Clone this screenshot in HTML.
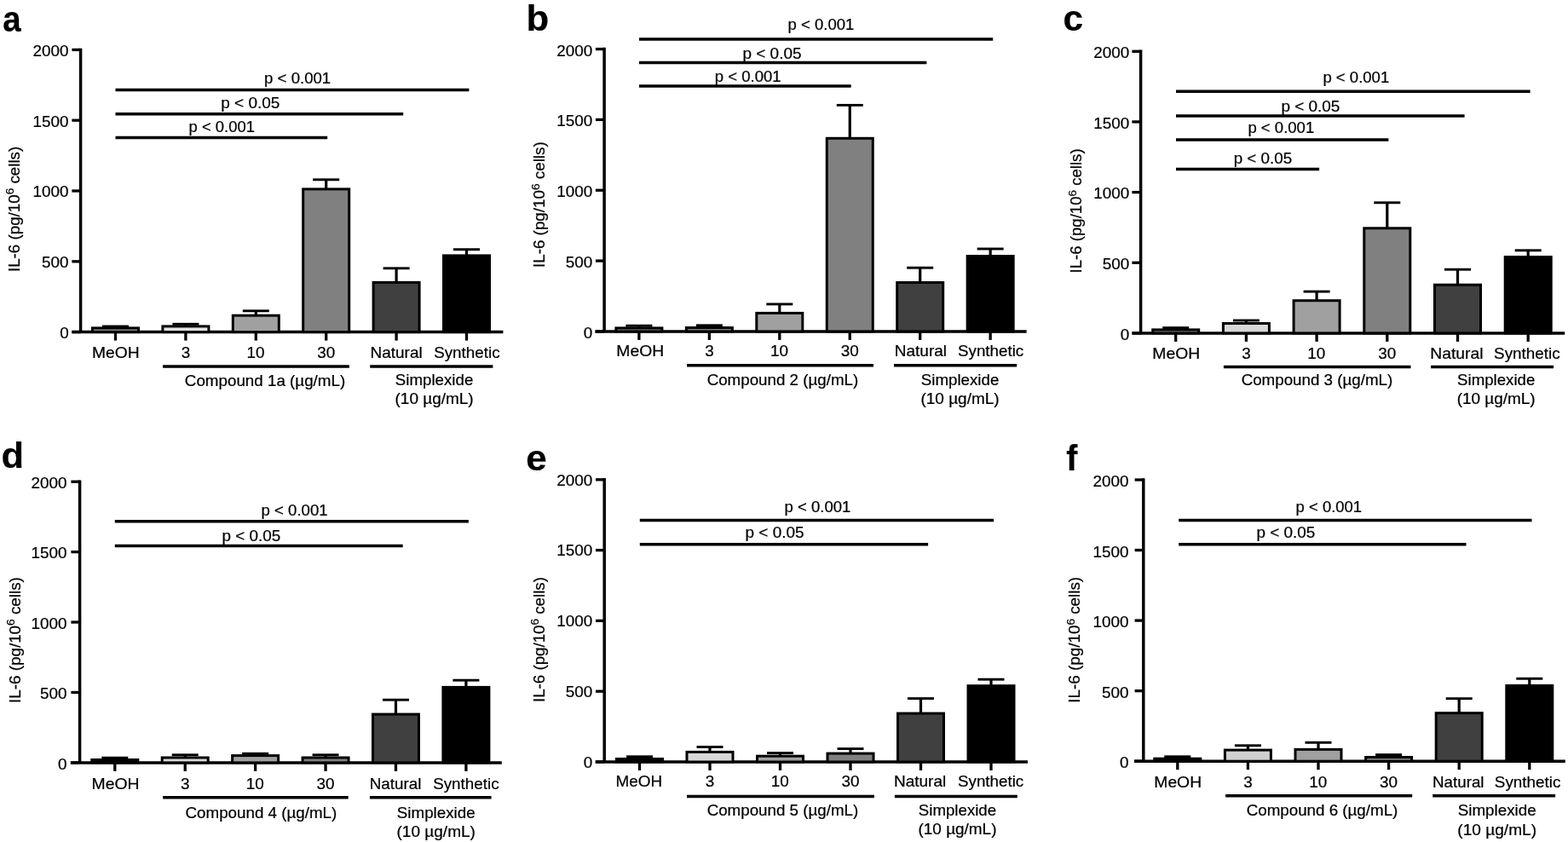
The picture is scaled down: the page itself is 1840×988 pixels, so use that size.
<!DOCTYPE html>
<html><head><meta charset="utf-8"><title>IL-6 production figure</title>
<style>
html,body{margin:0;padding:0;background:#fff;}
body{width:1840px;height:988px;overflow:hidden;}
svg{display:block;}
text{font-family:'Liberation Sans', Arial, Helvetica, sans-serif;font-size:18px;fill:#000;font-kerning:none;stroke:#000;stroke-width:0.22px;}
text.lt{font-weight:bold;font-size:43px;}
tspan.sup{font-size:13px;}
.ax{stroke:#000;stroke-width:3.5px;fill:none;}
.tk{stroke:#000;stroke-width:3.3px;fill:none;}
.eb{stroke:#000;stroke-width:3.2px;fill:none;}
.cp{stroke:#000;stroke-width:2.9px;fill:none;}
.gl{stroke:#000;stroke-width:3.5px;fill:none;}
.sg{stroke:#000;stroke-width:3.5px;fill:none;}
.bar{stroke:#000;stroke-width:3px;}
</style></head>
<body>
<svg width="1840" height="988" viewBox="0 0 1840 988">
<rect x="0" y="0" width="1840" height="988" fill="#fff"/>
<text class="lt" transform="translate(3.17 36.9) scale(0.8941 1)">a</text>
<line x1="94.6" y1="56.65" x2="94.6" y2="389.6" class="ax"/>
<line x1="84.4" y1="389.6" x2="94.6" y2="389.6" class="tk"/>
<text transform="translate(70.13 397) scale(1.0500 1)">0</text>
<line x1="84.4" y1="306.8" x2="94.6" y2="306.8" class="tk"/>
<text transform="translate(49.1 314.2) scale(1.0500 1)">500</text>
<line x1="84.4" y1="224" x2="94.6" y2="224" class="tk"/>
<text transform="translate(38.59 231.4) scale(1.0500 1)">1000</text>
<line x1="84.4" y1="141.2" x2="94.6" y2="141.2" class="tk"/>
<text transform="translate(38.59 148.6) scale(1.0500 1)">1500</text>
<line x1="84.4" y1="58.4" x2="94.6" y2="58.4" class="tk"/>
<text transform="translate(38.59 65.8) scale(1.0500 1)">2000</text>
<line x1="84.4" y1="389.6" x2="590.4" y2="389.6" class="ax"/>
<text transform="translate(23 319.03) rotate(-90) scale(1.0425 1)">IL-6 (pg/10<tspan class="sup" dy="-6.6">6</tspan><tspan dy="6.6"> cells)</tspan></text>
<line x1="135.5" y1="389.6" x2="135.5" y2="399.6" class="tk"/>
<line x1="135.5" y1="384.9" x2="135.5" y2="383" class="eb"/>
<line x1="120" y1="383" x2="151" y2="383" class="cp"/>
<rect x="108.5" y="384.9" width="54" height="4.7" fill="#808080" class="bar"/>
<text transform="translate(108.02 419.8) scale(1.0701 1)">MeOH</text>
<line x1="217.9" y1="389.6" x2="217.9" y2="399.6" class="tk"/>
<line x1="217.9" y1="382.9" x2="217.9" y2="380.3" class="eb"/>
<line x1="202.4" y1="380.3" x2="233.4" y2="380.3" class="cp"/>
<rect x="190.9" y="382.9" width="54" height="6.7" fill="#e2e2e2" class="bar"/>
<text transform="translate(212.7 419.8) scale(1.0500 1)">3</text>
<line x1="300.3" y1="389.6" x2="300.3" y2="399.6" class="tk"/>
<line x1="300.3" y1="370.2" x2="300.3" y2="364.8" class="eb"/>
<line x1="284.8" y1="364.8" x2="315.8" y2="364.8" class="cp"/>
<rect x="273.3" y="370.2" width="54" height="19.4" fill="#a0a0a0" class="bar"/>
<text transform="translate(289.44 419.8) scale(1.0500 1)">10</text>
<line x1="382.7" y1="389.6" x2="382.7" y2="399.6" class="tk"/>
<line x1="382.7" y1="221.9" x2="382.7" y2="210.8" class="eb"/>
<line x1="367.2" y1="210.8" x2="398.2" y2="210.8" class="cp"/>
<rect x="355.7" y="221.9" width="54" height="167.7" fill="#808080" class="bar"/>
<text transform="translate(372.2 419.8) scale(1.0500 1)">30</text>
<line x1="465.1" y1="389.6" x2="465.1" y2="399.6" class="tk"/>
<line x1="465.1" y1="331.4" x2="465.1" y2="314.8" class="eb"/>
<line x1="449.6" y1="314.8" x2="480.6" y2="314.8" class="cp"/>
<rect x="438.1" y="331.4" width="54" height="58.2" fill="#404040" class="bar"/>
<text transform="translate(434.44 419.8) scale(1.0552 1)">Natural</text>
<line x1="547.5" y1="389.6" x2="547.5" y2="399.6" class="tk"/>
<line x1="547.5" y1="299.9" x2="547.5" y2="292.7" class="eb"/>
<line x1="532" y1="292.7" x2="563" y2="292.7" class="cp"/>
<rect x="520.5" y="299.9" width="54" height="89.7" fill="#000000" class="bar"/>
<text transform="translate(509.14 419.8) scale(1.0461 1)">Synthetic</text>
<line x1="191" y1="430" x2="409.9" y2="430" class="gl"/>
<line x1="434.2" y1="430" x2="578.4" y2="430" class="gl"/>
<text transform="translate(216.85 452.6) scale(1.0441 1)">Compound 1a (µg/mL)</text>
<text transform="translate(463.85 451.6) scale(1.0391 1)">Simplexide</text>
<text transform="translate(463.52 474.2) scale(1.0544 1)">(10 µg/mL)</text>
<line x1="135.5" y1="105.4" x2="550.4" y2="105.4" class="sg"/>
<text transform="translate(310.1 98.2) scale(1.0336 1)">p &lt; 0.001</text>
<line x1="135.5" y1="133.8" x2="473.2" y2="133.8" class="sg"/>
<text transform="translate(259.17 127.1) scale(1.0559 1)">p &lt; 0.05</text>
<line x1="135.5" y1="161.6" x2="384.2" y2="161.6" class="sg"/>
<text transform="translate(221.61 155.1) scale(1.0241 1)">p &lt; 0.001</text>
<text class="lt" transform="translate(617.42 35.5) scale(1.0153 1)">b</text>
<line x1="709.1" y1="55.85" x2="709.1" y2="388.9" class="ax"/>
<line x1="698.9" y1="388.9" x2="709.1" y2="388.9" class="tk"/>
<text transform="translate(684.73 396.9) scale(1.0500 1)">0</text>
<line x1="698.9" y1="306.07" x2="709.1" y2="306.07" class="tk"/>
<text transform="translate(663.7 314.07) scale(1.0500 1)">500</text>
<line x1="698.9" y1="223.25" x2="709.1" y2="223.25" class="tk"/>
<text transform="translate(653.19 231.25) scale(1.0500 1)">1000</text>
<line x1="698.9" y1="140.43" x2="709.1" y2="140.43" class="tk"/>
<text transform="translate(653.19 148.43) scale(1.0500 1)">1500</text>
<line x1="698.9" y1="57.6" x2="709.1" y2="57.6" class="tk"/>
<text transform="translate(653.19 65.6) scale(1.0500 1)">2000</text>
<line x1="698.4" y1="388.9" x2="1204.6" y2="388.9" class="ax"/>
<text transform="translate(639.3 314.04) rotate(-90) scale(1.0468 1)">IL-6 (pg/10<tspan class="sup" dy="-6.6">6</tspan><tspan dy="6.6"> cells)</tspan></text>
<line x1="749.9" y1="388.9" x2="749.9" y2="398.9" class="tk"/>
<line x1="749.9" y1="384.9" x2="749.9" y2="382.2" class="eb"/>
<line x1="734.4" y1="382.2" x2="765.4" y2="382.2" class="cp"/>
<rect x="722.9" y="384.9" width="54" height="4" fill="#808080" class="bar"/>
<text transform="translate(723.31 418.3) scale(1.0762 1)">MeOH</text>
<line x1="832.35" y1="388.9" x2="832.35" y2="398.9" class="tk"/>
<line x1="832.35" y1="384.5" x2="832.35" y2="381.8" class="eb"/>
<line x1="816.85" y1="381.8" x2="847.85" y2="381.8" class="cp"/>
<rect x="805.35" y="384.5" width="54" height="4.4" fill="#808080" class="bar"/>
<text transform="translate(827.15 418.3) scale(1.0500 1)">3</text>
<line x1="914.8" y1="388.9" x2="914.8" y2="398.9" class="tk"/>
<line x1="914.8" y1="367.4" x2="914.8" y2="356.9" class="eb"/>
<line x1="899.3" y1="356.9" x2="930.3" y2="356.9" class="cp"/>
<rect x="887.8" y="367.4" width="54" height="21.5" fill="#a0a0a0" class="bar"/>
<text transform="translate(903.94 418.3) scale(1.0500 1)">10</text>
<line x1="997.25" y1="388.9" x2="997.25" y2="398.9" class="tk"/>
<line x1="997.25" y1="162.3" x2="997.25" y2="123.4" class="eb"/>
<line x1="981.75" y1="123.4" x2="1012.75" y2="123.4" class="cp"/>
<rect x="970.25" y="162.3" width="54" height="226.6" fill="#808080" class="bar"/>
<text transform="translate(986.75 418.3) scale(1.0500 1)">30</text>
<line x1="1079.7" y1="388.9" x2="1079.7" y2="398.9" class="tk"/>
<line x1="1079.7" y1="331.5" x2="1079.7" y2="314.2" class="eb"/>
<line x1="1064.2" y1="314.2" x2="1095.2" y2="314.2" class="cp"/>
<rect x="1052.7" y="331.5" width="54" height="57.4" fill="#404040" class="bar"/>
<text transform="translate(1049.74 418.3) scale(1.0570 1)">Natural</text>
<line x1="1162.15" y1="388.9" x2="1162.15" y2="398.9" class="tk"/>
<line x1="1162.15" y1="300.5" x2="1162.15" y2="292" class="eb"/>
<line x1="1146.65" y1="292" x2="1177.65" y2="292" class="cp"/>
<rect x="1135.15" y="300.5" width="54" height="88.4" fill="#000000" class="bar"/>
<text transform="translate(1123.95 418.3) scale(1.0447 1)">Synthetic</text>
<line x1="806" y1="428.7" x2="1025" y2="428.7" class="gl"/>
<line x1="1049" y1="428.7" x2="1193.2" y2="428.7" class="gl"/>
<text transform="translate(829.65 451.6) scale(1.0421 1)">Compound 2 (µg/mL)</text>
<text transform="translate(1080.75 451.6) scale(1.0402 1)">Simplexide</text>
<text transform="translate(1080.42 474) scale(1.0556 1)">(10 µg/mL)</text>
<line x1="750" y1="45.9" x2="1165.2" y2="45.9" class="sg"/>
<text transform="translate(924.61 35.1) scale(1.0282 1)">p &lt; 0.001</text>
<line x1="750" y1="73.4" x2="1087.4" y2="73.4" class="sg"/>
<text transform="translate(871.48 68.6) scale(1.0528 1)">p &lt; 0.05</text>
<line x1="750" y1="100.9" x2="998.7" y2="100.9" class="sg"/>
<text transform="translate(838.8 96.1) scale(1.0309 1)">p &lt; 0.001</text>
<text class="lt" transform="translate(1247.54 35.5) scale(0.9869 1)">c</text>
<line x1="1338.6" y1="58.55" x2="1338.6" y2="390.9" class="ax"/>
<line x1="1328.4" y1="390.9" x2="1338.6" y2="390.9" class="tk"/>
<text transform="translate(1314.73 398.5) scale(1.0500 1)">0</text>
<line x1="1328.4" y1="308.25" x2="1338.6" y2="308.25" class="tk"/>
<text transform="translate(1293.7 315.85) scale(1.0500 1)">500</text>
<line x1="1328.4" y1="225.6" x2="1338.6" y2="225.6" class="tk"/>
<text transform="translate(1283.19 233.2) scale(1.0500 1)">1000</text>
<line x1="1328.4" y1="142.95" x2="1338.6" y2="142.95" class="tk"/>
<text transform="translate(1283.19 150.55) scale(1.0500 1)">1500</text>
<line x1="1328.4" y1="60.3" x2="1338.6" y2="60.3" class="tk"/>
<text transform="translate(1283.19 67.9) scale(1.0500 1)">2000</text>
<line x1="1328.6" y1="390.9" x2="1836.2" y2="390.9" class="ax"/>
<text transform="translate(1269.3 320.42) rotate(-90) scale(1.0338 1)">IL-6 (pg/10<tspan class="sup" dy="-6.6">6</tspan><tspan dy="6.6"> cells)</tspan></text>
<line x1="1379.7" y1="390.9" x2="1379.7" y2="400.9" class="tk"/>
<line x1="1379.7" y1="386.9" x2="1379.7" y2="384.6" class="eb"/>
<line x1="1364.2" y1="384.6" x2="1395.2" y2="384.6" class="cp"/>
<rect x="1352.7" y="386.9" width="54" height="4" fill="#808080" class="bar"/>
<text transform="translate(1352.31 420.5) scale(1.0783 1)">MeOH</text>
<line x1="1462.4" y1="390.9" x2="1462.4" y2="400.9" class="tk"/>
<line x1="1462.4" y1="379.5" x2="1462.4" y2="376" class="eb"/>
<line x1="1446.9" y1="376" x2="1477.9" y2="376" class="cp"/>
<rect x="1435.4" y="379.5" width="54" height="11.4" fill="#d8d8d8" class="bar"/>
<text transform="translate(1457.2 420.5) scale(1.0500 1)">3</text>
<line x1="1545.1" y1="390.9" x2="1545.1" y2="400.9" class="tk"/>
<line x1="1545.1" y1="352.7" x2="1545.1" y2="342.1" class="eb"/>
<line x1="1529.6" y1="342.1" x2="1560.6" y2="342.1" class="cp"/>
<rect x="1518.1" y="352.7" width="54" height="38.2" fill="#a0a0a0" class="bar"/>
<text transform="translate(1534.24 420.5) scale(1.0500 1)">10</text>
<line x1="1627.8" y1="390.9" x2="1627.8" y2="400.9" class="tk"/>
<line x1="1627.8" y1="267.8" x2="1627.8" y2="237.8" class="eb"/>
<line x1="1612.3" y1="237.8" x2="1643.3" y2="237.8" class="cp"/>
<rect x="1600.8" y="267.8" width="54" height="123.1" fill="#808080" class="bar"/>
<text transform="translate(1617.3 420.5) scale(1.0500 1)">30</text>
<line x1="1710.5" y1="390.9" x2="1710.5" y2="400.9" class="tk"/>
<line x1="1710.5" y1="334.2" x2="1710.5" y2="316.2" class="eb"/>
<line x1="1695" y1="316.2" x2="1726" y2="316.2" class="cp"/>
<rect x="1683.5" y="334.2" width="54" height="56.7" fill="#404040" class="bar"/>
<text transform="translate(1678.22 420.5) scale(1.0733 1)">Natural</text>
<line x1="1793.2" y1="390.9" x2="1793.2" y2="400.9" class="tk"/>
<line x1="1793.2" y1="301.5" x2="1793.2" y2="293.8" class="eb"/>
<line x1="1777.7" y1="293.8" x2="1808.7" y2="293.8" class="cp"/>
<rect x="1766.2" y="301.5" width="54" height="89.4" fill="#000000" class="bar"/>
<text transform="translate(1753.04 420.5) scale(1.0488 1)">Synthetic</text>
<line x1="1435.9" y1="430.4" x2="1655.5" y2="430.4" class="gl"/>
<line x1="1679" y1="430.4" x2="1823.1" y2="430.4" class="gl"/>
<text transform="translate(1456.65 451.6) scale(1.0427 1)">Compound 3 (µg/mL)</text>
<text transform="translate(1710.05 451.6) scale(1.0368 1)">Simplexide</text>
<text transform="translate(1709.73 474) scale(1.0521 1)">(10 µg/mL)</text>
<line x1="1380" y1="107.3" x2="1795.6" y2="107.3" class="sg"/>
<text transform="translate(1552.4 97) scale(1.0309 1)">p &lt; 0.001</text>
<line x1="1380" y1="136" x2="1718.6" y2="136" class="sg"/>
<text transform="translate(1503.38 130.7) scale(1.0528 1)">p &lt; 0.05</text>
<line x1="1380" y1="164" x2="1629.4" y2="164" class="sg"/>
<text transform="translate(1464.4 155.8) scale(1.0309 1)">p &lt; 0.001</text>
<line x1="1380" y1="198.6" x2="1548.1" y2="198.6" class="sg"/>
<text transform="translate(1447.69 191.7) scale(1.0449 1)">p &lt; 0.05</text>
<text class="lt" transform="translate(1.52 548.6) scale(1.0107 1)">d</text>
<line x1="93.6" y1="563.45" x2="93.6" y2="894.9" class="ax"/>
<line x1="83.4" y1="894.9" x2="93.6" y2="894.9" class="tk"/>
<text transform="translate(67.93 902.5) scale(1.0500 1)">0</text>
<line x1="83.4" y1="812.48" x2="93.6" y2="812.48" class="tk"/>
<text transform="translate(46.9 820.08) scale(1.0500 1)">500</text>
<line x1="83.4" y1="730.05" x2="93.6" y2="730.05" class="tk"/>
<text transform="translate(36.39 737.65) scale(1.0500 1)">1000</text>
<line x1="83.4" y1="647.62" x2="93.6" y2="647.62" class="tk"/>
<text transform="translate(36.39 655.23) scale(1.0500 1)">1500</text>
<line x1="83.4" y1="565.2" x2="93.6" y2="565.2" class="tk"/>
<text transform="translate(36.39 572.8) scale(1.0500 1)">2000</text>
<line x1="82.8" y1="894.9" x2="588.8" y2="894.9" class="ax"/>
<text transform="translate(23.7 824.94) rotate(-90) scale(1.0468 1)">IL-6 (pg/10<tspan class="sup" dy="-6.6">6</tspan><tspan dy="6.6"> cells)</tspan></text>
<line x1="134.8" y1="894.9" x2="134.8" y2="904.9" class="tk"/>
<line x1="134.8" y1="891.5" x2="134.8" y2="889.2" class="eb"/>
<line x1="119.3" y1="889.2" x2="150.3" y2="889.2" class="cp"/>
<rect x="107.8" y="891.5" width="54" height="3.4" fill="#000000" class="bar"/>
<text transform="translate(107.51 925.9) scale(1.0783 1)">MeOH</text>
<line x1="217.22" y1="894.9" x2="217.22" y2="904.9" class="tk"/>
<line x1="217.22" y1="889" x2="217.22" y2="885.8" class="eb"/>
<line x1="201.72" y1="885.8" x2="232.72" y2="885.8" class="cp"/>
<rect x="190.22" y="889" width="54" height="5.9" fill="#d8d8d8" class="bar"/>
<text transform="translate(212.02 925.9) scale(1.0500 1)">3</text>
<line x1="299.64" y1="894.9" x2="299.64" y2="904.9" class="tk"/>
<line x1="299.64" y1="886.6" x2="299.64" y2="884.3" class="eb"/>
<line x1="284.14" y1="884.3" x2="315.14" y2="884.3" class="cp"/>
<rect x="272.64" y="886.6" width="54" height="8.3" fill="#a0a0a0" class="bar"/>
<text transform="translate(288.78 925.9) scale(1.0500 1)">10</text>
<line x1="382.06" y1="894.9" x2="382.06" y2="904.9" class="tk"/>
<line x1="382.06" y1="889" x2="382.06" y2="885.8" class="eb"/>
<line x1="366.56" y1="885.8" x2="397.56" y2="885.8" class="cp"/>
<rect x="355.06" y="889" width="54" height="5.9" fill="#808080" class="bar"/>
<text transform="translate(371.56 925.9) scale(1.0500 1)">30</text>
<line x1="464.48" y1="894.9" x2="464.48" y2="904.9" class="tk"/>
<line x1="464.48" y1="838.1" x2="464.48" y2="821.2" class="eb"/>
<line x1="448.98" y1="821.2" x2="479.98" y2="821.2" class="cp"/>
<rect x="437.48" y="838.1" width="54" height="56.8" fill="#404040" class="bar"/>
<text transform="translate(433.76 925.9) scale(1.0462 1)">Natural</text>
<line x1="546.9" y1="894.9" x2="546.9" y2="904.9" class="tk"/>
<line x1="546.9" y1="806.4" x2="546.9" y2="798.2" class="eb"/>
<line x1="531.4" y1="798.2" x2="562.4" y2="798.2" class="cp"/>
<rect x="519.9" y="806.4" width="54" height="88.5" fill="#000000" class="bar"/>
<text transform="translate(508.14 925.9) scale(1.0461 1)">Synthetic</text>
<line x1="191.1" y1="935.8" x2="408.7" y2="935.8" class="gl"/>
<line x1="433.9" y1="935.8" x2="576.6" y2="935.8" class="gl"/>
<text transform="translate(217.55 959.8) scale(1.0438 1)">Compound 4 (µg/mL)</text>
<text transform="translate(465.85 959.8) scale(1.0425 1)">Simplexide</text>
<text transform="translate(465.52 981.9) scale(1.0579 1)">(10 µg/mL)</text>
<line x1="134.8" y1="611.8" x2="549.9" y2="611.8" class="sg"/>
<text transform="translate(306.5 604.6) scale(1.0350 1)">p &lt; 0.001</text>
<line x1="134.8" y1="640.5" x2="472.7" y2="640.5" class="sg"/>
<text transform="translate(260.38 635) scale(1.0512 1)">p &lt; 0.05</text>
<text class="lt" transform="translate(617.19 551.6) scale(1.0209 1)">e</text>
<line x1="709.2" y1="561.05" x2="709.2" y2="894" class="ax"/>
<line x1="699" y1="894" x2="709.2" y2="894" class="tk"/>
<text transform="translate(684.73 900.8) scale(1.0500 1)">0</text>
<line x1="699" y1="811.2" x2="709.2" y2="811.2" class="tk"/>
<text transform="translate(663.7 818) scale(1.0500 1)">500</text>
<line x1="699" y1="728.4" x2="709.2" y2="728.4" class="tk"/>
<text transform="translate(653.19 735.2) scale(1.0500 1)">1000</text>
<line x1="699" y1="645.6" x2="709.2" y2="645.6" class="tk"/>
<text transform="translate(653.19 652.4) scale(1.0500 1)">1500</text>
<line x1="699" y1="562.8" x2="709.2" y2="562.8" class="tk"/>
<text transform="translate(653.19 569.6) scale(1.0500 1)">2000</text>
<line x1="698.6" y1="894" x2="1206" y2="894" class="ax"/>
<text transform="translate(638.7 824.03) rotate(-90) scale(1.0403 1)">IL-6 (pg/10<tspan class="sup" dy="-6.6">6</tspan><tspan dy="6.6"> cells)</tspan></text>
<line x1="750.5" y1="894" x2="750.5" y2="904" class="tk"/>
<line x1="750.5" y1="890.5" x2="750.5" y2="887.8" class="eb"/>
<line x1="735" y1="887.8" x2="766" y2="887.8" class="cp"/>
<rect x="723.5" y="890.5" width="54" height="3.5" fill="#000000" class="bar"/>
<text transform="translate(722.44 923.1) scale(1.0538 1)">MeOH</text>
<line x1="833" y1="894" x2="833" y2="904" class="tk"/>
<line x1="833" y1="882.4" x2="833" y2="876.5" class="eb"/>
<line x1="817.5" y1="876.5" x2="848.5" y2="876.5" class="cp"/>
<rect x="806" y="882.4" width="54" height="11.6" fill="#d8d8d8" class="bar"/>
<text transform="translate(827.8 923.1) scale(1.0500 1)">3</text>
<line x1="915.5" y1="894" x2="915.5" y2="904" class="tk"/>
<line x1="915.5" y1="887.2" x2="915.5" y2="883.6" class="eb"/>
<line x1="900" y1="883.6" x2="931" y2="883.6" class="cp"/>
<rect x="888.5" y="887.2" width="54" height="6.8" fill="#a0a0a0" class="bar"/>
<text transform="translate(904.64 923.1) scale(1.0500 1)">10</text>
<line x1="998" y1="894" x2="998" y2="904" class="tk"/>
<line x1="998" y1="884.1" x2="998" y2="878.6" class="eb"/>
<line x1="982.5" y1="878.6" x2="1013.5" y2="878.6" class="cp"/>
<rect x="971" y="884.1" width="54" height="9.9" fill="#808080" class="bar"/>
<text transform="translate(987.5 923.1) scale(1.0500 1)">30</text>
<line x1="1080.5" y1="894" x2="1080.5" y2="904" class="tk"/>
<line x1="1080.5" y1="837.1" x2="1080.5" y2="819.6" class="eb"/>
<line x1="1065" y1="819.6" x2="1096" y2="819.6" class="cp"/>
<rect x="1053.5" y="837.1" width="54" height="56.9" fill="#404040" class="bar"/>
<text transform="translate(1048.94 923.1) scale(1.0570 1)">Natural</text>
<line x1="1163" y1="894" x2="1163" y2="904" class="tk"/>
<line x1="1163" y1="804.7" x2="1163" y2="797.2" class="eb"/>
<line x1="1147.5" y1="797.2" x2="1178.5" y2="797.2" class="cp"/>
<rect x="1136" y="804.7" width="54" height="89.3" fill="#000000" class="bar"/>
<text transform="translate(1123.95 923.1) scale(1.0447 1)">Synthetic</text>
<line x1="806" y1="934.4" x2="1025.9" y2="934.4" class="gl"/>
<line x1="1049.9" y1="934.4" x2="1193.8" y2="934.4" class="gl"/>
<text transform="translate(829.65 957) scale(1.0421 1)">Compound 5 (µg/mL)</text>
<text transform="translate(1077.85 957) scale(1.0368 1)">Simplexide</text>
<text transform="translate(1077.53 979) scale(1.0521 1)">(10 µg/mL)</text>
<line x1="750.8" y1="610.4" x2="1166.1" y2="610.4" class="sg"/>
<text transform="translate(920.5 601) scale(1.0309 1)">p &lt; 0.001</text>
<line x1="750.8" y1="638.8" x2="1089.1" y2="638.8" class="sg"/>
<text transform="translate(874.58 631.4) scale(1.0528 1)">p &lt; 0.05</text>
<text class="lt" transform="translate(1251.33 552) scale(0.9145 1)">f</text>
<line x1="1341.8" y1="561.25" x2="1341.8" y2="893.2" class="ax"/>
<line x1="1331.6" y1="893.2" x2="1341.8" y2="893.2" class="tk"/>
<text transform="translate(1313.93 901.4) scale(1.0500 1)">0</text>
<line x1="1331.6" y1="810.65" x2="1341.8" y2="810.65" class="tk"/>
<text transform="translate(1292.9 818.85) scale(1.0500 1)">500</text>
<line x1="1331.6" y1="728.1" x2="1341.8" y2="728.1" class="tk"/>
<text transform="translate(1282.39 736.3) scale(1.0500 1)">1000</text>
<line x1="1331.6" y1="645.55" x2="1341.8" y2="645.55" class="tk"/>
<text transform="translate(1282.39 653.75) scale(1.0500 1)">1500</text>
<line x1="1331.6" y1="563" x2="1341.8" y2="563" class="tk"/>
<text transform="translate(1282.39 571.2) scale(1.0500 1)">2000</text>
<line x1="1331" y1="893.2" x2="1836.8" y2="893.2" class="ax"/>
<text transform="translate(1267.3 824.64) rotate(-90) scale(1.0468 1)">IL-6 (pg/10<tspan class="sup" dy="-6.6">6</tspan><tspan dy="6.6"> cells)</tspan></text>
<line x1="1381.8" y1="893.2" x2="1381.8" y2="903.2" class="tk"/>
<line x1="1381.8" y1="890.2" x2="1381.8" y2="887.8" class="eb"/>
<line x1="1366.3" y1="887.8" x2="1397.3" y2="887.8" class="cp"/>
<rect x="1354.8" y="890.2" width="54" height="3" fill="#000000" class="bar"/>
<text transform="translate(1354.32 923.9) scale(1.0721 1)">MeOH</text>
<line x1="1464.4" y1="893.2" x2="1464.4" y2="903.2" class="tk"/>
<line x1="1464.4" y1="880.1" x2="1464.4" y2="874.8" class="eb"/>
<line x1="1448.9" y1="874.8" x2="1479.9" y2="874.8" class="cp"/>
<rect x="1437.4" y="880.1" width="54" height="13.1" fill="#d0d0d0" class="bar"/>
<text transform="translate(1459.2 923.9) scale(1.0500 1)">3</text>
<line x1="1547" y1="893.2" x2="1547" y2="903.2" class="tk"/>
<line x1="1547" y1="879.4" x2="1547" y2="871.3" class="eb"/>
<line x1="1531.5" y1="871.3" x2="1562.5" y2="871.3" class="cp"/>
<rect x="1520" y="879.4" width="54" height="13.8" fill="#a0a0a0" class="bar"/>
<text transform="translate(1536.14 923.9) scale(1.0500 1)">10</text>
<line x1="1629.6" y1="893.2" x2="1629.6" y2="903.2" class="tk"/>
<line x1="1629.6" y1="888.5" x2="1629.6" y2="885.6" class="eb"/>
<line x1="1614.1" y1="885.6" x2="1645.1" y2="885.6" class="cp"/>
<rect x="1602.6" y="888.5" width="54" height="4.7" fill="#808080" class="bar"/>
<text transform="translate(1619.1 923.9) scale(1.0500 1)">30</text>
<line x1="1712.2" y1="893.2" x2="1712.2" y2="903.2" class="tk"/>
<line x1="1712.2" y1="836.7" x2="1712.2" y2="819.7" class="eb"/>
<line x1="1696.7" y1="819.7" x2="1727.7" y2="819.7" class="cp"/>
<rect x="1685.2" y="836.7" width="54" height="56.5" fill="#404040" class="bar"/>
<text transform="translate(1681.06 923.9) scale(1.0426 1)">Natural</text>
<line x1="1794.8" y1="893.2" x2="1794.8" y2="903.2" class="tk"/>
<line x1="1794.8" y1="804.5" x2="1794.8" y2="796.3" class="eb"/>
<line x1="1779.3" y1="796.3" x2="1810.3" y2="796.3" class="cp"/>
<rect x="1767.8" y="804.5" width="54" height="88.7" fill="#000000" class="bar"/>
<text transform="translate(1753.84 923.9) scale(1.0488 1)">Synthetic</text>
<line x1="1438.1" y1="933.8" x2="1657.2" y2="933.8" class="gl"/>
<line x1="1681.2" y1="933.8" x2="1825.1" y2="933.8" class="gl"/>
<text transform="translate(1462.65 957) scale(1.0438 1)">Compound 6 (µg/mL)</text>
<text transform="translate(1710.65 957) scale(1.0460 1)">Simplexide</text>
<text transform="translate(1710.32 979.9) scale(1.0615 1)">(10 µg/mL)</text>
<line x1="1383.2" y1="610.4" x2="1797.5" y2="610.4" class="sg"/>
<text transform="translate(1520.61 600.8) scale(1.0254 1)">p &lt; 0.001</text>
<line x1="1383.2" y1="638.8" x2="1720.5" y2="638.8" class="sg"/>
<text transform="translate(1474.48 631.4) scale(1.0512 1)">p &lt; 0.05</text>
</svg>
</body></html>
